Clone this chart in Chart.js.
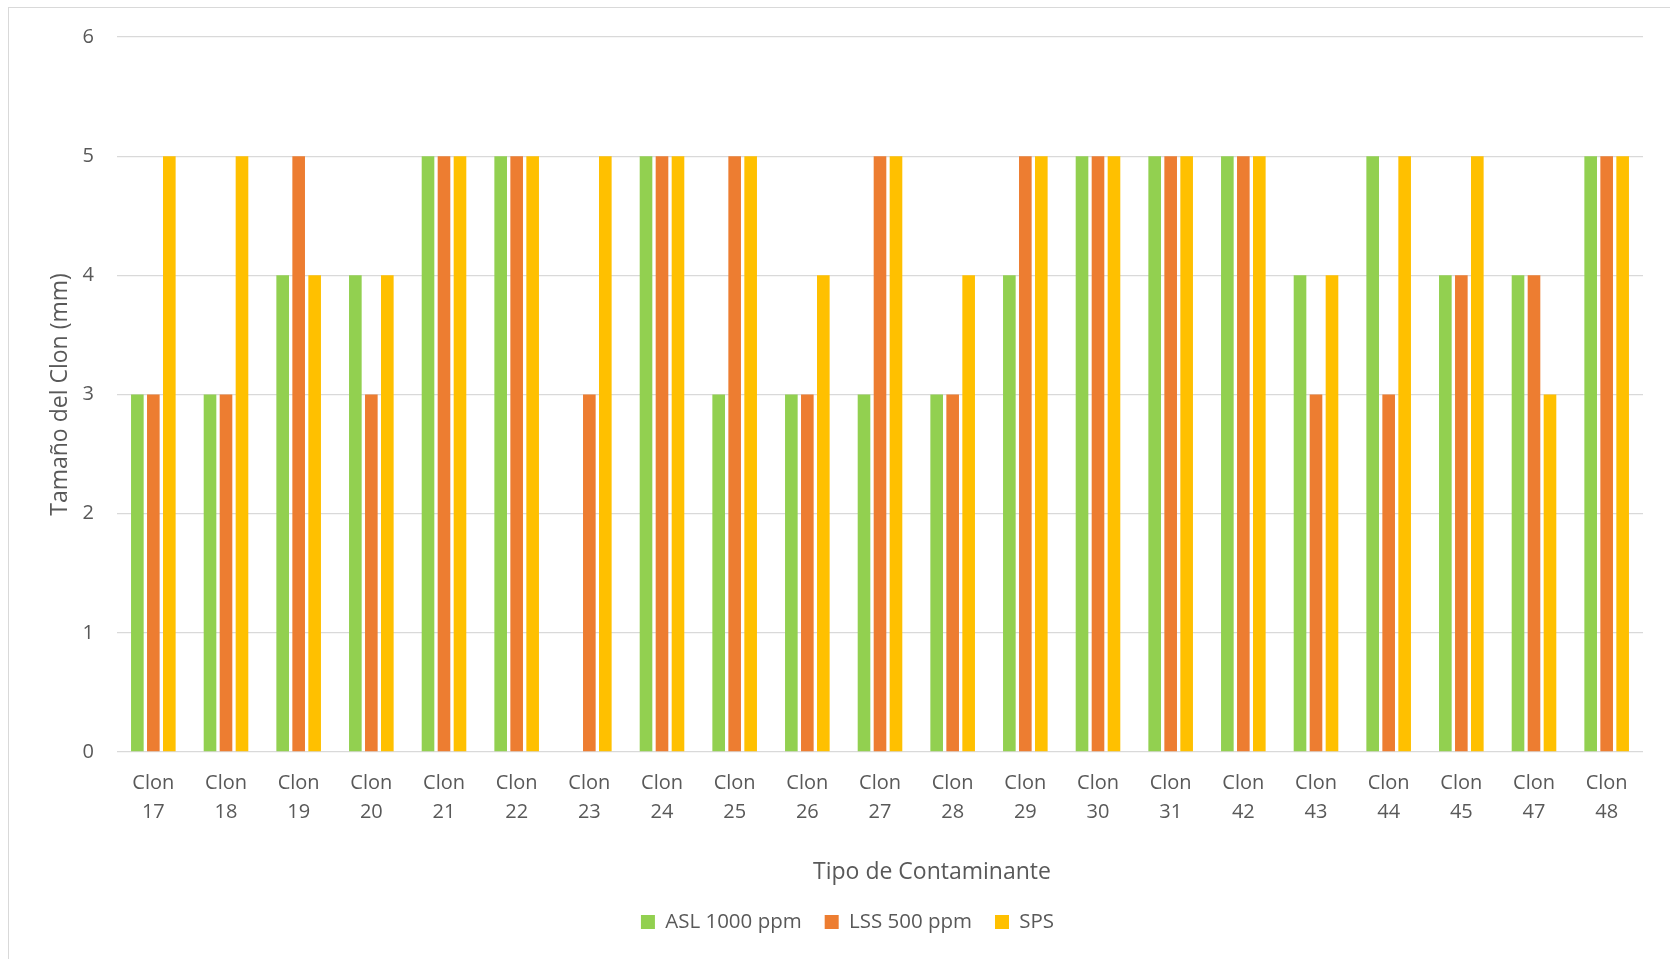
<!DOCTYPE html>
<html>
<head>
<meta charset="utf-8">
<script src="https://cdn.jsdelivr.net/npm/chart.js@4.4.1/dist/chart.umd.min.js"></script>
<style>
  html, body { margin: 0; padding: 0; background: #ffffff; overflow: hidden; }
  #wrap { position: relative; width: 1670px; height: 959px; }
  #frame { position: absolute; left: 8px; top: 7px; width: 1700px; height: 1000px;
           border-left: 1.5px solid #d9d9d9; border-top: 1.5px solid #d9d9d9; box-sizing: border-box; }
  canvas { position: absolute; left: 0; top: 0; }
</style>
</head>
<body>
<div id="wrap">
  <div id="frame"></div>
  <canvas id="chart" width="1670" height="959"></canvas>
</div>
<script>
// Clone sizes (mm) per treatment
const clones = ['17','18','19','20','21','22','23','24','25','26','27','28','29','30','31','42','43','44','45','47','48'];
const categories = clones.map(n => ['Clon', n]);
const asl1000 = [3, 3, 4, 4, 5, 5, 0, 5, 3, 3, 3, 3, 4, 5, 5, 5, 4, 5, 4, 4, 5];
const lss500  = [3, 3, 5, 3, 5, 5, 3, 5, 5, 3, 5, 3, 5, 5, 5, 5, 3, 3, 4, 4, 5];
const sps     = [5, 5, 4, 4, 5, 5, 5, 5, 5, 4, 5, 4, 5, 5, 5, 5, 4, 5, 5, 3, 5];
const yTicks  = [0, 1, 2, 3, 4, 5, 6];

const textColor = '#595959';
const gridColor = '#d9d9d9';
const family = "'Open Sans', 'Liberation Sans', sans-serif";
const tickFont = { family, size: 20 };
const titleFont = { family, size: 23 };
const legendFont = { family, size: 20.5 };

// Horizontal offsets of the legend and the category-axis title (whole frame is centred, not the plot)
const legendShiftX = 26;
const xTitleShiftX = 52;

const offsetPlugin = {
  id: 'offsets',
  afterLayout(chart) {
    chart.legend.left += legendShiftX;
    chart.legend.right += legendShiftX;
    const sx = chart.scales.x;
    if (!sx._titleShifted) {
      const draw = sx.drawTitle.bind(sx);
      sx.drawTitle = function () {
        this.ctx.save();
        this.ctx.translate(xTitleShiftX, 0);
        draw();
        this.ctx.restore();
      };
      sx._titleShifted = true;
    }
  }
};

new Chart(document.getElementById('chart'), {
  type: 'bar',
  data: {
    labels: categories,
    datasets: [
      { label: 'ASL 1000 ppm', data: asl1000, backgroundColor: '#92d050' },
      { label: 'LSS 500 ppm',  data: lss500,  backgroundColor: '#ed7d31' },
      { label: 'SPS',          data: sps,     backgroundColor: '#ffc000' }
    ]
  },
  plugins: [offsetPlugin],
  options: {
    responsive: false,
    animation: false,
    devicePixelRatio: 1,
    layout: { padding: { left: 0, right: 27, top: 37, bottom: 16.75 } },
    datasets: { bar: { categoryPercentage: 0.66, barPercentage: 0.79 } },
    plugins: {
      tooltip: { enabled: false },
      legend: {
        position: 'bottom',
        labels: {
          color: textColor,
          font: legendFont,
          boxWidth: 14,
          boxHeight: 14,
          padding: 23
        }
      }
    },
    scales: {
      x: {
        grid: { display: false, drawTicks: false },
        border: { display: false },
        ticks: {
          color: textColor,
          font: { ...tickFont, lineHeight: '29px' },
          padding: 17,
          maxRotation: 0,
          autoSkip: false
        },
        title: {
          display: true,
          text: 'Tipo de Contaminante',
          color: textColor,
          font: titleFont,
          padding: { top: 0, bottom: 2 }
        },
        afterFit: s => { s.height = 136.75; }
      },
      y: {
        min: 0,
        max: 6,
        afterBuildTicks: s => { s.ticks = yTicks.map(v => ({ value: v })); },
        grid: { color: gridColor, lineWidth: 1.3, drawTicks: false },
        border: { display: false },
        ticks: { color: textColor, font: tickFont, padding: 23 },
        title: {
          display: true,
          text: 'Tamaño del Clon (mm)',
          color: textColor,
          font: titleFont,
          padding: { top: 47, bottom: 0 }
        },
        afterFit: s => { s.width = 117; }
      }
    }
  }
});
</script>
</body>
</html>
